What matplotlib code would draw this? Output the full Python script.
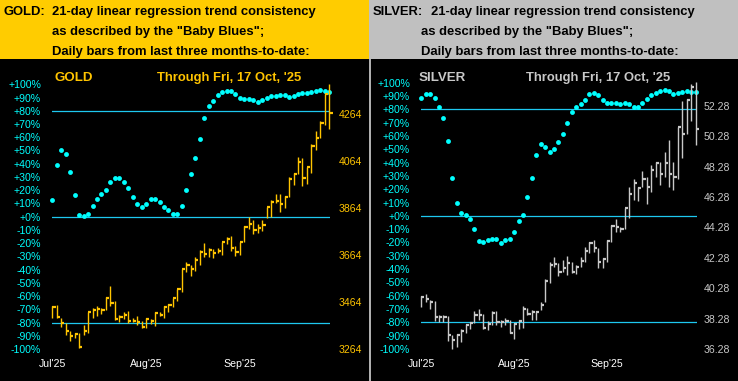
import matplotlib
matplotlib.use('Agg')
import matplotlib.pyplot as plt
from matplotlib.collections import LineCollection
from matplotlib.patches import Rectangle

plt.rcParams['font.family'] = ['Liberation Sans', 'DejaVu Sans']

# ---------------- data ----------------
month_labels = ["Jul'25", "Aug'25", "Sep'25"]
month_positions = [0, 21, 42]
pct_ticks = list(range(-100, 101, 10))

gold_price_ticks = [3264, 3464, 3664, 3864, 4064, 4264]
silver_price_ticks = [36.28, 38.28, 40.28, 42.28, 44.28, 46.28, 48.28, 50.28, 52.28]

gold_high = [3447, 3451, 3397, 3376, 3342, 3332, 3332, 3366, 3420, 3437,
             3447, 3440, 3486, 3532, 3469, 3409, 3420, 3426, 3395, 3405,
             3383, 3395, 3390, 3420, 3420, 3447, 3454, 3480, 3518, 3605,
             3636, 3622, 3658, 3686, 3714, 3696, 3689, 3693, 3721, 3743,
             3746, 3704, 3721, 3788, 3825, 3814, 3797, 3814, 3871, 3899,
             3923, 3923, 3916, 3996, 4013, 4081, 4077, 4038, 4138, 4193,
             4236, 4351, 4393]
gold_low = [3397, 3395, 3356, 3324, 3298, 3309, 3267, 3324, 3334, 3397,
            3406, 3415, 3432, 3449, 3386, 3380, 3392, 3376, 3378, 3366,
            3355, 3355, 3369, 3363, 3406, 3397, 3423, 3443, 3469, 3508,
            3594, 3577, 3598, 3622, 3658, 3658, 3653, 3675, 3665, 3711,
            3683, 3662, 3665, 3721, 3774, 3753, 3757, 3768, 3824, 3825,
            3885, 3846, 3864, 3913, 3963, 4008, 3960, 3967, 4015, 4112,
            4162, 4219, 4200]
gold_close = [3444, 3399, 3373, 3342, 3318, 3328, 3274, 3342, 3420, 3430,
              3434, 3430, 3483, 3461, 3392, 3402, 3409, 3383, 3383, 3380,
              3358, 3393, 3383, 3419, 3409, 3444, 3452, 3480, 3518, 3605,
              3622, 3605, 3643, 3679, 3667, 3684, 3674, 3683, 3721, 3731,
              3693, 3679, 3721, 3785, 3797, 3771, 3781, 3792, 3868, 3892,
              3896, 3882, 3913, 3987, 4010, 4062, 3994, 4038, 4131, 4162,
              4229, 4349, 4271]
gold_pct = [12.8, 39.3, 50.1, 47.6, 34, 16.6, 1.3, 0.8, 2.3, 8.3,
            13.1, 17.4, 20.4, 26.2, 29.5, 29, 26.5, 21.9, 15.1, 9.8,
            7.1, 9.3, 13, 13, 11.4, 7.5, 5.3, 2.3, 2.3, 8.3,
            20.4, 32.5, 44.6, 58.9, 74.8, 83.4, 87.6, 91.7, 94.4, 95,
            95, 93, 89.7, 89.2, 89.2, 88.2, 86.6, 87.9, 89.9, 91.4,
            90.9, 91.7, 91.7, 90.6, 90.9, 92.4, 93.2, 93.2, 94.4, 95,
            96, 95, 94.4]

silver_high = [39.77, 39.90, 39.50, 39.46, 38.52, 38.50, 38.45, 37.20, 37.24, 37.57,
               37.93, 38.08, 38.80, 38.89, 38.58, 38.14, 38.76, 38.78, 38.19, 38.30,
               38.19, 37.97, 38.19, 39.11, 38.96, 38.85, 38.80, 39.39, 40.86, 42.00,
               42.35, 41.92, 42.14, 42.40, 42.03, 41.81, 42.31, 43.01, 43.34, 43.45,
               42.95, 42.24, 43.45, 44.44, 44.83, 44.33, 45.53, 46.96, 47.44, 46.91,
               48.01, 47.62, 48.39, 48.60, 48.56, 49.22, 50.03, 48.60, 50.91, 52.60,
               52.73, 53.69, 53.87]
silver_low = [39.06, 39.39, 38.91, 38.12, 38.08, 38.06, 36.83, 36.30, 36.43, 36.76,
              37.35, 37.60, 37.97, 38.19, 37.57, 37.53, 37.86, 37.86, 37.71, 37.86,
              37.31, 36.94, 37.57, 37.68, 38.52, 38.19, 38.19, 38.85, 39.39, 40.60,
              41.70, 41.10, 41.37, 41.15, 41.26, 41.20, 41.70, 42.03, 42.57, 42.68,
              41.59, 41.59, 41.98, 43.34, 44.00, 43.95, 44.17, 44.92, 46.08, 46.02,
              46.96, 45.80, 46.63, 47.62, 47.07, 47.62, 46.96, 46.74, 47.46, 48.82,
              50.40, 51.30, 49.70]
silver_close = [39.72, 39.55, 39.37, 38.36, 38.36, 38.41, 37.20, 36.87, 37.20, 37.49,
                37.88, 37.97, 38.52, 38.52, 37.66, 37.93, 38.67, 38.08, 38.08, 38.12,
                37.35, 37.93, 38.14, 38.93, 38.58, 38.74, 38.74, 39.18, 40.78, 41.79,
                41.85, 41.37, 41.59, 41.96, 41.37, 41.65, 42.07, 42.75, 43.27, 42.95,
                42.03, 42.18, 43.40, 44.39, 44.33, 44.17, 45.53, 46.46, 47.18, 46.85,
                47.46, 46.96, 48.06, 48.49, 47.77, 48.54, 47.77, 47.62, 50.86, 50.42,
                52.66, 53.54, 50.73]
silver_pct = [88.7, 91.3, 91.3, 88.7, 82, 73.7, 56.4, 28.6, 9.8, 2.3,
              0.3, -2.2, -10, -19, -19.8, -18.3, -17.5, -17.5, -20.3, -18.5,
              -17.3, -12.3, -4, 0.8, 14.3, 28.6, 45.9, 54.1, 51.9, 48.1,
              50.2, 55.6, 61.7, 69.9, 78.2, 82, 83.8, 87, 91.3, 92.3,
              91, 87, 84.5, 84.5, 84.5, 83.8, 84.5, 83.8, 82, 82,
              84.5, 88, 90.5, 92.3, 94, 94.5, 93.7, 91.7, 92.4, 93.2,
              93.7, 93.2, 93.2]

# ---------------- layout ----------------
W, H = 738, 381
fig = plt.figure(figsize=(W / 100, H / 100), dpi=100, facecolor='black')


def fx(px):
    return px / W


def fy(py):
    return 1 - py / H


CYAN = '#00FFFF'
LINE_BLUE = '#1EC8F0'
GOLD_HDR = '#FFCC00'
GOLD_TXT = '#FFC400'
SILVER_HDR = '#C0C0C0'
SILVER_TXT = '#C8C8C8'

fig.add_artist(Rectangle((0, fy(59.3)), fx(369.3), 59.3 / H, transform=fig.transFigure,
                         facecolor=GOLD_HDR, edgecolor='none', zorder=0))
fig.add_artist(Rectangle((fx(369.3), fy(59.3)), fx(738 - 369.3), 59.3 / H, transform=fig.transFigure,
                         facecolor=SILVER_HDR, edgecolor='none', zorder=0))
fig.add_artist(Rectangle((fx(369.2), 0), fx(1.3), fy(59.3), transform=fig.transFigure,
                         facecolor='#B0B0B0', edgecolor='none', zorder=0))

hdr_kw = dict(fontsize=9.4, fontweight='bold', color='black', va='baseline', ha='left')
fig.text(fx(4), fy(15), 'GOLD:', **hdr_kw)
fig.text(fx(51.7), fy(15), '21-day linear regression trend consistency', **hdr_kw)
fig.text(fx(51.7), fy(35.3), 'as described by the "Baby Blues";', **hdr_kw)
fig.text(fx(51.7), fy(55), 'Daily bars from last three months-to-date:', **hdr_kw)
fig.text(fx(373), fy(15), 'SILVER:', **hdr_kw)
fig.text(fx(430.7), fy(15), '21-day linear regression trend consistency', **hdr_kw)
fig.text(fx(420.7), fy(35.3), 'as described by the "Baby Blues";', **hdr_kw)
fig.text(fx(420.7), fy(55), 'Daily bars from last three months-to-date:', **hdr_kw)


def panel(x0, x1, xb0, xb1, ytop, ybot, pmin, pmax, high, low, close, pct,
          price_ticks, price_fmt, bar_color, txt_color, name, name_x, thru_x, rpad):
    ax = fig.add_axes([fx(x0), fy(ybot), (x1 - x0) / W, (ybot - ytop) / H])
    ax.set_facecolor('none')
    s = (xb1 - xb0) / (len(close) - 1)
    ax.set_xlim((x0 - xb0) / s, (x1 - xb0) / s)
    ax.set_ylim(-100, 100)
    for sp in ax.spines.values():
        sp.set_visible(False)
    for lvl in (80, 0, -80):
        ax.axhline(lvl, color=LINE_BLUE, lw=0.9, zorder=1)
    ax.set_yticks(pct_ticks)
    ax.set_yticklabels([f'{v:+d}%' for v in pct_ticks])
    ax.tick_params(axis='y', length=0, pad=7.7, labelcolor=CYAN, labelsize=7.6)
    ax.set_xticks(month_positions)
    ax.set_xticklabels(month_labels)
    ax.tick_params(axis='x', length=0, pad=7.4, labelcolor='white', labelsize=7.6)

    ax2 = ax.twinx()
    ax2.set_facecolor('none')
    ax2.set_ylim(pmin, pmax)
    for sp in ax2.spines.values():
        sp.set_visible(False)
    ax2.set_yticks(price_ticks)
    ax2.set_yticklabels([price_fmt.format(v) for v in price_ticks])
    ax2.tick_params(axis='y', length=0, pad=rpad, labelcolor=txt_color, labelsize=7.6)

    idx = range(len(close))
    vert = [[(i, low[i]), (i, high[i])] for i in idx]
    ticks = [[(i, close[i]), (i + 0.72, close[i])] for i in idx]
    ax2.add_collection(LineCollection(vert, colors=bar_color, linewidths=1.0,
                                      clip_on=False, zorder=2))
    ax2.add_collection(LineCollection(ticks, colors=bar_color, linewidths=1.6,
                                      clip_on=False, zorder=2, capstyle='butt'))
    ax.plot(list(idx), pct, 'o', ms=3.5, color=CYAN, mec='none', zorder=3, clip_on=False)

    fig.text(fx(name_x), fy(80.7), name, fontsize=9.6, fontweight='bold',
             color=txt_color, va='baseline')
    fig.text(fx(thru_x), fy(80.7), "Through Fri, 17 Oct, '25", fontsize=9.4,
             fontweight='bold', color=txt_color, va='baseline')
    return ax, ax2


panel(51.7, 330.0, 52.3, 329.3, 84.3, 349.0, 3264, 3264 + (349 - 84.3) * 200 / 46.93,
      gold_high, gold_low, gold_close, gold_pct, gold_price_ticks, '{:.0f}',
      GOLD_TXT, GOLD_TXT, 'GOLD', 54.3, 156.7, 6.0)
panel(420.7, 697.0, 421.3, 695.5, 82.7, 349.0, 36.28, 36.28 + (349 - 82.7) * 2 / 30.4,
      silver_high, silver_low, silver_close, silver_pct, silver_price_ticks, '{:.2f}',
      SILVER_TXT, SILVER_TXT, 'SILVER', 419.0, 526.3, 5.0)

fig.savefig('out.png', dpi=100, facecolor='black')
